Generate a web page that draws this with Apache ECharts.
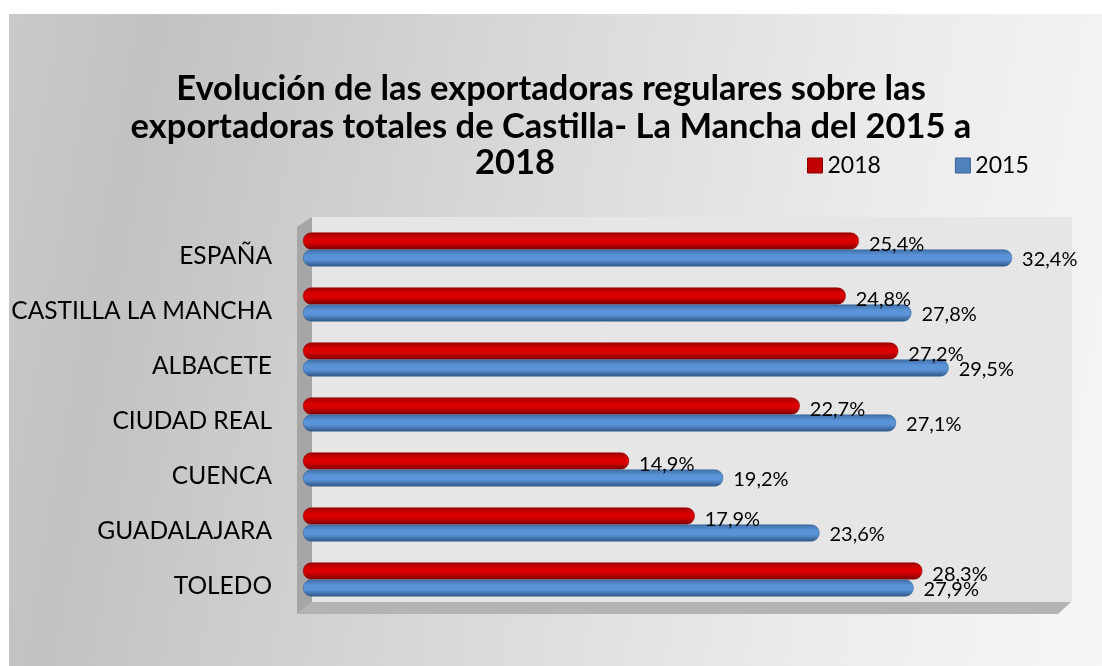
<!DOCTYPE html>
<html>
<head>
<meta charset="utf-8">
<title>Exportadoras regulares</title>
<script src="https://cdn.jsdelivr.net/npm/echarts@6/dist/echarts.min.js"></script>
<style>
  html, body { margin: 0; padding: 0; background: #fff; }
  #bg {
    position: absolute; left: 9px; top: 14px; right: 0; bottom: 0;
    background: linear-gradient(100deg, #cacaca 0%, #c2c2c2 12%, #d6d6d6 40%, #ececec 75%, #f6f6f6 100%);
  }
  #chart { position: absolute; left: 0; top: 0; width: 1102px; height: 666px; }
</style>
</head>
<body>
<div id="bg"></div>
<div id="chart"></div>
<script>
var categories = ['ESPAÑA', 'CASTILLA LA MANCHA', 'ALBACETE', 'CIUDAD REAL', 'CUENCA', 'GUADALAJARA', 'TOLEDO']
var values2018 = [25.4, 24.8, 27.2, 22.7, 14.9, 17.9, 28.3]
var values2015 = [32.4, 27.8, 29.5, 27.1, 19.2, 23.6, 27.9]
var seriesNames = ['2018', '2015']

var FONT = 'Lato, "Open Sans", sans-serif'

function pct(p) {
  return p.value.toFixed(1).replace('.', ',') + '%'
}

// cylinder look: dark edges, light middle
function tube(edge, mid, dark) {
  return new echarts.graphic.LinearGradient(0, 0, 0, 1, [
    { offset: 0, color: edge },
    { offset: 0.35, color: mid },
    { offset: 0.6, color: mid },
    { offset: 1, color: dark }
  ])
}

function valueLabel(dy) {
  return {
    show: true,
    position: 'right',
    distance: 10,
    offset: [0, dy],
    color: '#000',
    fontFamily: FONT,
    fontSize: 20,
    formatter: pct
  }
}

var chart = echarts.init(document.getElementById('chart'))

var option = {
  backgroundColor: 'transparent',
  animation: false,
  title: [{
    text: 'Evolución de las exportadoras regulares sobre las\nexportadoras totales de Castilla- La Mancha del 2015 a',
    left: 'center',
    top: 65,
    textStyle: { fontFamily: FONT, fontWeight: 'bold', fontSize: 34.5, lineHeight: 38, color: '#000' }
  }, {
    text: '2018',
    left: 470,
    top: 140,
    textStyle: { fontFamily: FONT, fontWeight: 'bold', fontSize: 34.5, color: '#000' }
  }],
  legend: {
    left: 807,
    top: 154,
    padding: 0,
    itemWidth: 15,
    itemHeight: 15,
    itemGap: 74,
    icon: 'rect',
    textStyle: { fontFamily: FONT, fontSize: 23, color: '#000' },
    data: [
      { name: seriesNames[0], itemStyle: { color: '#c00000', borderColor: '#8c0000', borderWidth: 1 } },
      { name: seriesNames[1], itemStyle: { color: '#4f81bd', borderColor: '#3a6190', borderWidth: 1 } }
    ]
  },
  graphic: [
    // back wall
    { type: 'rect', z: 1, shape: { x: 312, y: 217, width: 760, height: 385 }, style: { fill: '#e6e6e6' } },
    // left wall
    { type: 'polygon', z: 1, shape: { points: [[297, 227], [312, 217], [312, 602], [297, 614]] }, style: { fill: '#a6a6a6' } },
    // floor
    { type: 'polygon', z: 1, shape: { points: [[297, 614], [312, 602], [1071, 602], [1058, 614]] }, style: { fill: '#b4b4b4' } }
  ],
  grid: {
    left: 303,
    top: 222,
    width: 766,
    height: 385
  },
  xAxis: {
    type: 'value',
    min: 0,
    max: 35,
    show: false
  },
  yAxis: {
    type: 'category',
    inverse: true,
    data: categories,
    axisLine: { show: false },
    axisTick: { show: false },
    axisLabel: {
      margin: 31,
      formatter: function (v) { return '{c|' + v + '}' },
      rich: {
        c: {
          color: '#000',
          fontFamily: FONT,
          fontSize: 24.5,
          padding: [14, 0, 0, 0]
        }
      }
    }
  },
  series: [{
    name: seriesNames[0],
    type: 'bar',
    data: values2018,
    barWidth: 17,
    barGap: '0%',
    z: 3,
    itemStyle: {
      color: tube('#9c0000', '#d80000', '#7a0000'),
      borderRadius: 8,
      borderColor: '#8c0000',
      borderWidth: 0.5
    },
    label: valueLabel(4)
  }, {
    name: seriesNames[1],
    type: 'bar',
    data: values2015,
    barWidth: 17,
    barGap: '0%',
    z: 3,
    itemStyle: {
      color: tube('#3f6ea6', '#5b93d8', '#2f5685'),
      borderRadius: 8,
      borderColor: '#35608f',
      borderWidth: 0.5
    },
    label: valueLabel(2)
  }]
}

chart.setOption(option)
</script>
</body>
</html>
